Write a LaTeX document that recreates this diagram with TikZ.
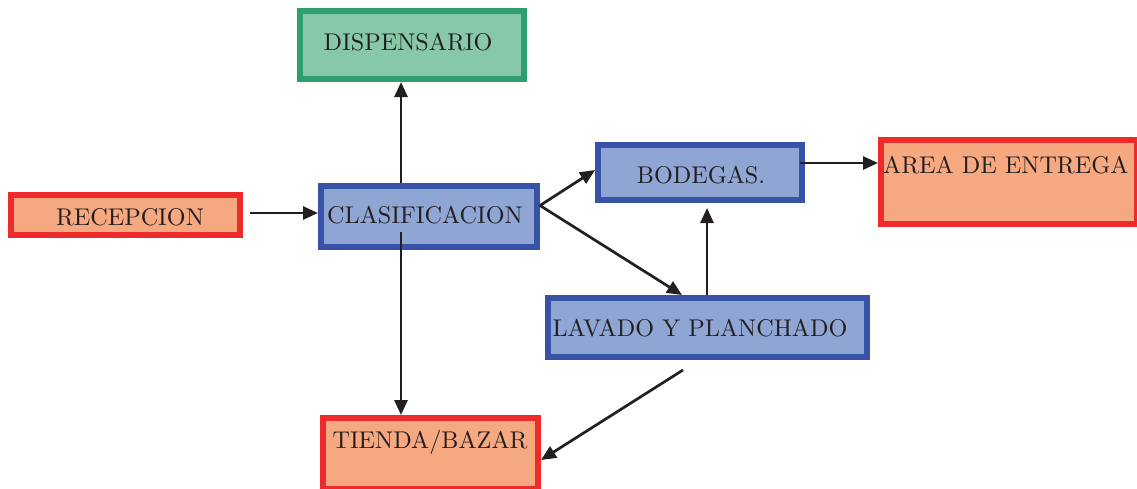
\documentclass[tikz,border=0pt]{standalone}
\usepackage{fontspec}
\setmainfont{lmroman10-regular.otf}
\usetikzlibrary{arrows.meta}
\definecolor{gborder}{HTML}{2E9E6E}
\definecolor{gfill}{HTML}{88C8AA}
\definecolor{rborder}{HTML}{EE2B2A}
\definecolor{rfill}{HTML}{F6A880}
\definecolor{bborder}{HTML}{3752A6}
\definecolor{bfill}{HTML}{8FA5D3}
\definecolor{ink}{HTML}{231F20}
\tikzset{
  box/.style={draw, rectangle, line width=6pt, inner sep=0pt},
  gbox/.style={box, draw=gborder, fill=gfill},
  rbox/.style={box, draw=rborder, fill=rfill},
  bbox/.style={box, draw=bborder, fill=bfill},
  lbl/.style={text=ink, font=\fontsize{24.2}{29}\selectfont, inner sep=0pt},
  arr/.style={draw=ink, line width=2.7pt, -{Triangle[length=15pt,width=13pt]}}
}
\begin{document}
\begin{tikzpicture}[x=1pt,y=-1pt]
\useasboundingbox (0,0) rectangle (1137,488);
\node[gbox, minimum width=224pt, minimum height=68pt] (disp) at (412,45) {};
\node[lbl] (dispt) at (408,42) {DISPENSARIO};
\node[rbox, minimum width=229pt, minimum height=40pt] (recep) at (125.5,215) {};
\node[lbl] (recept) at (130,217) {RECEPCION};
\node[bbox, minimum width=216pt, minimum height=61pt] (clas) at (429,216.5) {};
\node[lbl] (clast) at (425,215) {CLASIFICACION};
\node[bbox, minimum width=204pt, minimum height=55pt] (bod) at (700,172.5) {};
\node[lbl] (bodt) at (701,175) {BODEGAS.};
\node[rbox, minimum width=256pt, minimum height=84pt] (area) at (1009,182) {};
\node[lbl, anchor=base west] (areat) at (883,173) {AREA DE ENTREGA};
\node[bbox, minimum width=319pt, minimum height=59pt] (lav) at (707.5,327.5) {};
\node[lbl] (lavt) at (700,328) {LAVADO Y PLANCHADO};
\node[rbox, minimum width=215pt, minimum height=71pt] (tienda) at (430.5,453.5) {};
\node[lbl, anchor=base] (tiendat) at (430,448) {TIENDA/BAZAR};

\draw[arr] ([xshift=-28pt]clas.north) -- ([xshift=-11pt]disp.south);
\draw[arr] ([xshift=7pt,yshift=2pt]recep.east) -- ([yshift=3.5pt]clas.west);
\draw[arr] ([yshift=11pt]clas.east) -- ([yshift=2.5pt]bod.west);
\draw[arr] ([yshift=11pt]clas.east) -- ([xshift=-25.5pt]lav.north);
\draw[arr] ([xshift=-0.5pt]lav.north) -- ([xshift=7pt,yshift=-5pt]bod.south);
\draw[arr] ([xshift=-5pt,yshift=9.5pt]bod.east) -- ([yshift=19pt]area.west);
\draw[arr] ([xshift=-28pt,yshift=-15.5pt]clas.center) -- ([xshift=-29.5pt]tienda.north);
\draw[arr] ([xshift=-24.5pt,yshift=-10pt]lav.south) -- ([yshift=-6.5pt]tienda.east);
\end{tikzpicture}
\end{document}
